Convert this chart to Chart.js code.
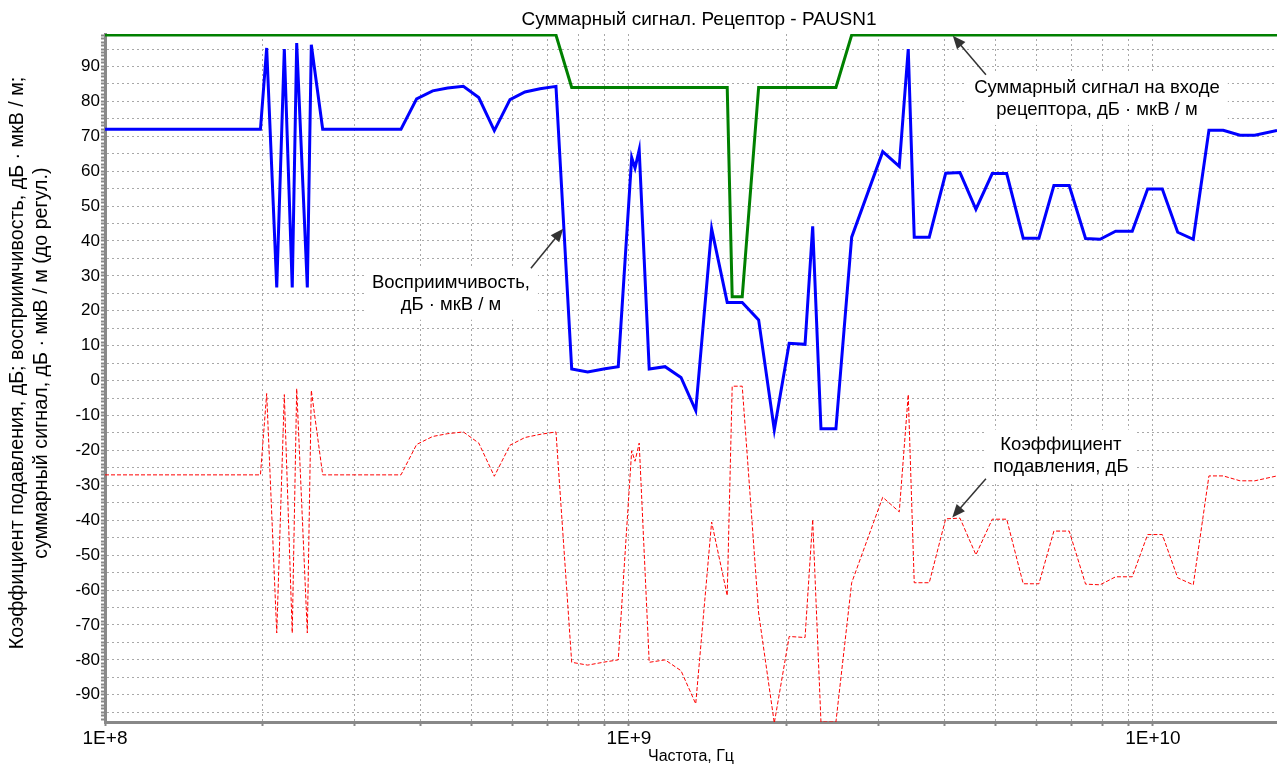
<!DOCTYPE html>
<html>
<head>
<meta charset="utf-8">
<script src="https://cdn.jsdelivr.net/npm/chart.js@4.4.1/dist/chart.umd.min.js"></script>
<style>
html, body { margin: 0; padding: 0; background: #fff; }
</style>
</head>
<body>
<canvas id="chart" width="1277" height="766"></canvas>
<script>
// частоты, Гц
const freqs = [
    1e8, 1.98e8, 2.035e8, 2.127e8, 2.199e8, 2.277e8, 2.322e8, 2.433e8, 2.476e8, 2.603e8,
    3.672e8, 3.933e8, 4.221e8, 4.508e8, 4.83e8, 5.168e8, 5.534e8, 5.928e8, 6.331e8, 6.765e8,
    7.256e8, 7.775e8, 8.34e8, 9.0e8, 9.54e8, 1.012e9, 1.027e9, 1.046e9, 1.093e9, 1.172e9,
    1.257e9, 1.341e9, 1.438e9, 1.54e9, 1.574e9, 1.645e9, 1.768e9, 1.894e9, 2.022e9, 2.168e9,
    2.242e9, 2.325e9, 2.483e9, 2.661e9, 3.05e9, 3.28e9, 3.412e9, 3.503e9, 3.742e9, 4.022e9,
    4.283e9, 4.594e9, 4.935e9, 5.259e9, 5.655e9, 6.059e9, 6.471e9, 6.922e9, 7.437e9, 7.926e9,
    8.489e9, 9.131e9, 9.77e9, 1.042e10, 1.115e10, 1.194e10, 1.279e10, 1.362e10, 1.466e10, 1.565e10,
    1.725e10
];

// восприимчивость, дБ·мкВ/м
const susceptibility = [
    72, 72, 95.3, 26.7, 95.0, 26.7, 96.7, 26.7, 96.2, 72,
    72, 80.7, 83.0, 83.8, 84.3, 81.1, 71.6, 80.5, 82.7, 83.6,
    84.3, 3.3, 2.5, 3.4, 4.0, 63.9, 60.9, 66.1, 3.3, 4.0,
    0.9, -8.6, 43.5, 22.4, 22.4, 22.4, 17.4, -14.1, 10.7, 10.4,
    44.2, -13.8, -13.8, 41.1, 65.6, 61.4, 95.0, 41.1, 41.1, 59.4,
    59.6, 49.1, 59.3, 59.3, 40.8, 40.8, 55.9, 55.9, 40.7, 40.5,
    42.8, 42.8, 54.9, 54.9, 42.5, 40.5, 71.7, 71.7, 70.3, 70.3,
    71.7
];

// суммарный сигнал на входе рецептора, дБ·мкВ/м
const sumSignal = [
    99, 99, 99, 99, 99, 99, 99, 99, 99, 99,
    99, 99, 99, 99, 99, 99, 99, 99, 99, 99,
    99, 84, 84, 84, 84, 84, 84, 84, 84, 84,
    84, 84, 84, 84, 24, 24, 84, 84, 84, 84,
    84, 84, 84, 99, 99, 99, 99, 99, 99, 99,
    99, 99, 99, 99, 99, 99, 99, 99, 99, 99,
    99, 99, 99, 99, 99, 99, 99, 99, 99, 99,
    99
];

// коэффициент подавления, дБ
const suppression = [
    -27, -27, -3.7, -72.3, -4.0, -72.3, -2.3, -72.3, -2.8, -27,
    -27, -18.3, -16.0, -15.2, -14.7, -17.9, -27.4, -18.5, -16.3, -15.4,
    -14.7, -80.7, -81.5, -80.6, -80.0, -20.1, -23.1, -17.9, -80.7, -80.0,
    -83.1, -92.6, -40.5, -61.6, -1.6, -1.6, -66.6, -98.1, -73.3, -73.6,
    -39.8, -97.8, -97.8, -57.9, -33.4, -37.6, -4.0, -57.9, -57.9, -39.6,
    -39.4, -49.9, -39.7, -39.7, -58.2, -58.2, -43.1, -43.1, -58.3, -58.5,
    -56.2, -56.2, -44.1, -44.1, -56.5, -58.5, -27.3, -27.3, -28.7, -28.7,
    -27.3
];

const xDecades = [8, 9, 10];
const yLabelStep = 10;
const yGridStep = 5;

const chartTitle = 'Суммарный сигнал. Рецептор - PAUSN1';
const xTitle = 'Частота, Гц';
const yTitle = [
    'Коэффициент подавления, дБ; восприимчивость, дБ · мкВ / м;',
    'суммарный сигнал, дБ · мкВ / м (до регул.)'
];

// подписи со стрелками (в координатах данных)
const notes = [
    { lines: ['Суммарный сигнал на входе', 'рецептора, дБ · мкВ / м'], x: 7.82e9, y: 80.7, from: [4.8e9, 87.6], to: [4.15e9, 98.8] },
    { lines: ['Восприимчивость,', 'дБ · мкВ / м'], x: 4.574e8, y: 24.9, from: [6.5e8, 32.2], to: [7.49e8, 43.5] },
    { lines: ['Коэффициент', 'подавления, дБ'], x: 6.674e9, y: -21.5, from: [4.8e9, -28.1], to: [4.14e9, -39.2] }
];

const FONT = '"Liberation Sans", Arial, sans-serif';

function toPoints(ys) {
    return freqs.map((f, i) => ({ x: f, y: ys[i] }));
}

function drawArrow(ctx, x1, y1, x2, y2) {
    const ang = Math.atan2(y2 - y1, x2 - x1);
    const len = 13, half = 5.5;
    ctx.strokeStyle = '#333';
    ctx.fillStyle = '#333';
    ctx.lineWidth = 1.5;
    ctx.beginPath();
    ctx.moveTo(x1, y1);
    ctx.lineTo(x2 - Math.cos(ang) * len * 0.8, y2 - Math.sin(ang) * len * 0.8);
    ctx.stroke();
    ctx.beginPath();
    ctx.moveTo(x2, y2);
    ctx.lineTo(x2 - Math.cos(ang) * len + Math.sin(ang) * half, y2 - Math.sin(ang) * len - Math.cos(ang) * half);
    ctx.lineTo(x2 - Math.cos(ang) * len - Math.sin(ang) * half, y2 - Math.sin(ang) * len + Math.cos(ang) * half);
    ctx.closePath();
    ctx.fill();
}

const textPlugin = {
    id: 'texts',
    afterDatasetsDraw(chart) {
        const { ctx, chartArea, scales } = chart;
        const xs = scales.x, ys = scales.y;
        ctx.save();
        ctx.font = '18.5px ' + FONT;
        ctx.textAlign = 'center';
        ctx.textBaseline = 'middle';

        notes.forEach(n => {
            const cx = xs.getPixelForValue(n.x);
            const cy = ys.getPixelForValue(n.y);
            const lh = 22;
            const w = Math.max(...n.lines.map(l => ctx.measureText(l).width)) + 16;
            const h = n.lines.length * lh + 8;
            ctx.fillStyle = '#fff';
            ctx.fillRect(cx - w / 2, cy - h / 2, w, h);
            ctx.fillStyle = '#000';
            n.lines.forEach((l, i) => {
                ctx.fillText(l, cx, cy + (i - (n.lines.length - 1) / 2) * lh);
            });
            drawArrow(ctx,
                xs.getPixelForValue(n.from[0]), ys.getPixelForValue(n.from[1]),
                xs.getPixelForValue(n.to[0]), ys.getPixelForValue(n.to[1]));
        });

        // заголовок
        ctx.fillStyle = '#000';
        ctx.font = '19px ' + FONT;
        ctx.fillText(chartTitle, (chartArea.left + chartArea.right) / 2 + 8, 20);
        // подпись оси X
        ctx.font = '16px ' + FONT;
        ctx.fillText(xTitle, (chartArea.left + chartArea.right) / 2, 757);
        // подпись оси Y
        ctx.font = '19.7px ' + FONT;
        ctx.translate(0, 363);
        ctx.rotate(-Math.PI / 2);
        ctx.fillText(yTitle[0], 0, 18);
        ctx.fillText(yTitle[1], 0, 42);
        ctx.restore();
    }
};

Chart.defaults.font.family = FONT;
Chart.defaults.font.size = 16;
Chart.defaults.color = '#000';

const ctx = document.getElementById('chart').getContext('2d');

new Chart(ctx, {
    type: 'line',
    data: {
        datasets: [
            {
                label: 'Суммарный сигнал',
                data: toPoints(sumSignal),
                borderColor: '#008000',
                borderWidth: 3,
                pointRadius: 0,
                fill: false,
                tension: 0
            },
            {
                label: 'Восприимчивость',
                data: toPoints(susceptibility),
                borderColor: '#0000ff',
                borderWidth: 3,
                pointRadius: 0,
                fill: false,
                tension: 0
            },
            {
                label: 'Коэффициент подавления',
                data: toPoints(suppression),
                borderColor: '#ff0000',
                borderWidth: 1,
                borderDash: [4, 2],
                pointRadius: 0,
                fill: false,
                tension: 0
            }
        ]
    },
    options: {
        responsive: false,
        animation: false,
        devicePixelRatio: 1,
        layout: { padding: { top: 34, left: 0, right: 0, bottom: 0 } },
        plugins: {
            legend: { display: false },
            tooltip: { enabled: false },
            title: { display: false }
        },
        scales: {
            x: {
                type: 'logarithmic',
                position: 'bottom',
                min: 1e8,
                max: 1.725e10,
                bounds: 'data',
                afterBuildTicks: scale => {
                    const t = [];
                    xDecades.forEach(e => {
                        for (let m = 1; m <= 9; m++) {
                            const v = m * Math.pow(10, e);
                            if (v >= scale.min && v <= scale.max) t.push({ value: v });
                        }
                    });
                    scale.ticks = t;
                },
                afterFit: scale => { scale.height = 44; },
                ticks: {
                    autoSkip: false,
                    maxRotation: 0,
                    padding: 1,
                    font: { size: 19 },
                    callback: v => {
                        const e = Math.log10(v);
                        return Math.abs(e - Math.round(e)) < 1e-9 ? '1E+' + Math.round(e) : '';
                    }
                },
                grid: {
                    color: '#a8a8a8',
                    lineWidth: 1,
                    tickColor: '#888',
                    tickWidth: 2,
                    tickLength: 4
                },
                border: { color: '#888', width: 3, dash: [2, 3] }
            },
            y: {
                type: 'linear',
                min: -97.8,
                max: 99.3,
                bounds: 'data',
                afterBuildTicks: scale => {
                    const t = [];
                    for (let v = Math.ceil(scale.min); v <= Math.floor(scale.max); v++) t.push({ value: v });
                    scale.ticks = t;
                },
                afterFit: scale => { scale.width = 105; },
                ticks: {
                    autoSkip: false,
                    padding: 1,
                    font: { size: 17 },
                    callback: v => (v % yLabelStep === 0 && Math.abs(v) <= 90) ? String(v) : ''
                },
                grid: {
                    color: c => (c.tick && c.tick.value % yGridStep === 0) ? '#a8a8a8' : 'rgba(0,0,0,0)',
                    lineWidth: 1,
                    tickColor: '#888',
                    tickWidth: 2,
                    tickLength: 4
                },
                border: { color: '#888', width: 3, dash: [2, 3] }
            }
        }
    },
    plugins: [textPlugin]
});
</script>
</body>
</html>
